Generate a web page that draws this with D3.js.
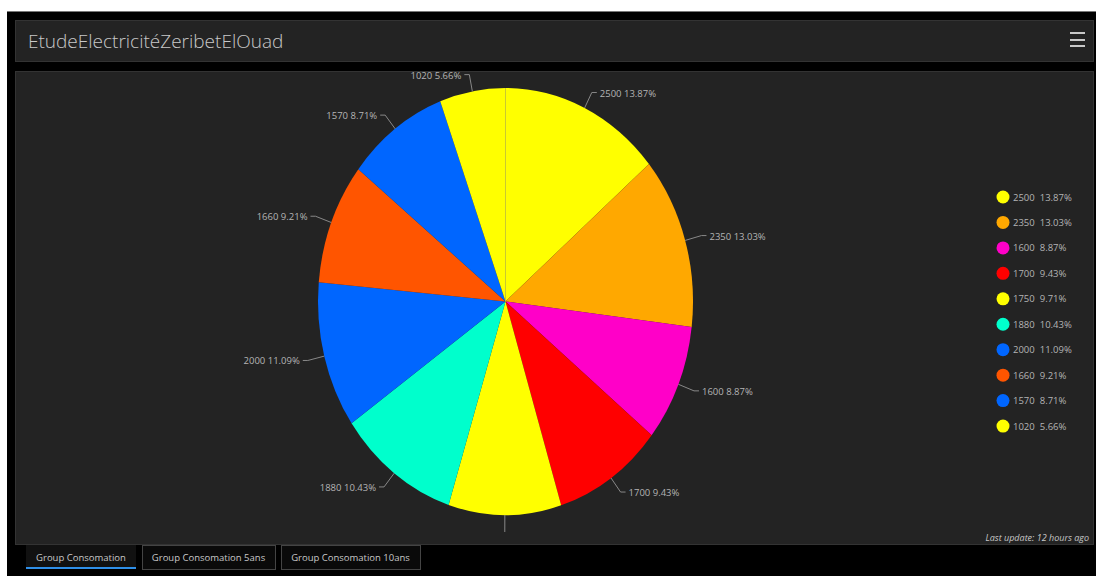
<!DOCTYPE html>
<html>
<head>
<meta charset="utf-8">
<script src="https://cdn.jsdelivr.net/npm/d3@7"></script>
<style>
  html, body { margin: 0; padding: 0; background: #fff; }
  svg { display: block; font-family: "Open Sans", "Noto Sans", sans-serif; }
</style>
</head>
<body>
<svg id="chart"></svg>
<script>
// chart data
const categories = ["2500", "2350", "1600", "1700", "1750", "1880", "2000", "1660", "1570", "1020"];
const values = [2500, 2350, 1600, 1700, 1750, 1880, 2000, 1660, 1570, 1020];
const colors = ["#ffff00", "#ffa800", "#ff00c8", "#ff0000", "#ffff00", "#00ffcc", "#0066ff", "#ff5500", "#0066ff", "#ffff00"];
const tabs = ["Group Consomation", "Group Consomation 5ans", "Group Consomation 10ans"];
const title = "EtudeElectricitéZeribetElOuad";

const W = 1096, H = 576;
const svg = d3.select("#chart").attr("width", W).attr("height", H);

// frame
svg.append("rect").attr("x", 7).attr("y", 11).attr("width", W - 7).attr("height", H - 11).attr("fill", "#000");
svg.append("line").attr("x1", 7).attr("x2", W).attr("y1", 11.5).attr("y2", 11.5).attr("stroke", "#777");

// title panel
svg.append("rect").attr("x", 15.5).attr("y", 20.5).attr("width", 1078).attr("height", 41)
  .attr("fill", "#232323").attr("stroke", "#333");
svg.append("text").attr("x", 28).attr("y", 48).attr("fill", "#c8c8c8")
  .style("font-size", "19px").style("font-weight", 300).text(title);
[33, 40, 46].forEach(y => {
  svg.append("line").attr("x1", 1070).attr("x2", 1085).attr("y1", y).attr("y2", y)
    .attr("stroke", "#c8c8c8").attr("stroke-width", 2);
});

// chart panel
svg.append("rect").attr("x", 15.5).attr("y", 71.5).attr("width", 1078).attr("height", 473)
  .attr("fill", "#232323").attr("stroke", "#333");

svg.append("text").attr("x", 1089).attr("y", 541).attr("text-anchor", "end")
  .attr("fill", "#c8c8c8").style("font-size", "9px").style("font-style", "italic")
  .text("Last update: 12 hours ago");

// pie (slightly stretched vertically like the source)
const total = d3.sum(values);
const data = categories.map((c, i) => ({name: c, value: values[i], color: colors[i], pct: (values[i] / total * 100).toFixed(2) + "%"}));
const cx = 505.5, cy = 301.5, rx = 187.5, ry = 213.5;
const pie = d3.pie().value(d => d.value).sort(null);
const arcs = pie(data);
const arc = d3.arc().innerRadius(0).outerRadius(rx);

const g = svg.append("g").attr("transform", `translate(${cx},${cy}) scale(1,${ry / rx})`);
g.selectAll("path").data(arcs).enter().append("path")
  .attr("d", arc).attr("fill", d => d.data.color);

// seam line at the start angle
svg.append("line").attr("x1", cx).attr("x2", cx).attr("y1", cy).attr("y2", cy - ry)
  .attr("stroke", "#c9c930").attr("stroke-width", 1);

// outside labels with leader lines
const ext = 17, hor = 5;
const labels = svg.append("g");
arcs.forEach(a => {
  const m = (a.startAngle + a.endAngle) / 2;
  const s = Math.sin(m), c = Math.cos(m);
  const x0 = cx + s * rx, y0 = cy - c * ry;
  const x1 = cx + s * (rx + ext), y1 = cy - c * (ry + ext);
  const dir = s >= -0.01 ? 1 : -1;
  // label that would overflow the panel bottom is hidden, as in the source
  const hidden = y1 > 520;
  const x2 = hidden ? x1 : x1 + dir * hor;
  labels.append("polyline")
    .attr("points", `${x0},${y0} ${x1},${y1} ${x2},${y1}`)
    .attr("fill", "none").attr("stroke", "#888").attr("stroke-width", 1);
  if (hidden) return;
  labels.append("text")
    .attr("x", x2 + dir * 3).attr("y", y1 + 4)
    .attr("text-anchor", dir > 0 ? "start" : "end")
    .attr("fill", "#b4b4b4").style("font-size", "9.5px")
    .text(a.data.name + " " + a.data.pct);
});

// legend
const legend = svg.append("g").attr("transform", "translate(1003,197)");
const rows = legend.selectAll("g").data(data).enter().append("g")
  .attr("transform", (d, i) => `translate(0,${i * 25.45})`);
rows.append("circle").attr("r", 6.5).attr("fill", d => d.color);
const lt = rows.append("text").attr("x", 10).attr("y", 3.5)
  .attr("fill", "#b4b4b4").style("font-size", "9.5px");
lt.append("tspan").text(d => d.name);
lt.append("tspan").attr("dx", 5).text(d => d.pct);

// tabs
const tabX = [26, 142, 281], tabW = [110, 133, 139];
tabs.forEach((t, i) => {
  if (i > 0) {
    svg.append("rect").attr("x", tabX[i] + 0.5).attr("y", 545.5).attr("width", tabW[i]).attr("height", 24)
      .attr("fill", "#0a0a0a").attr("stroke", "#444");
  } else {
    svg.append("rect").attr("x", tabX[i]).attr("y", 545).attr("width", tabW[i]).attr("height", 24)
      .attr("fill", "#111");
    svg.append("rect").attr("x", tabX[i]).attr("y", 567).attr("width", tabW[i]).attr("height", 2)
      .attr("fill", "#2f8fe8");
  }
  svg.append("text").attr("x", tabX[i] + tabW[i] / 2).attr("y", 561).attr("text-anchor", "middle")
    .attr("fill", "#c8c8c8").style("font-size", "9.5px").text(t);
});
</script>
</body>
</html>
